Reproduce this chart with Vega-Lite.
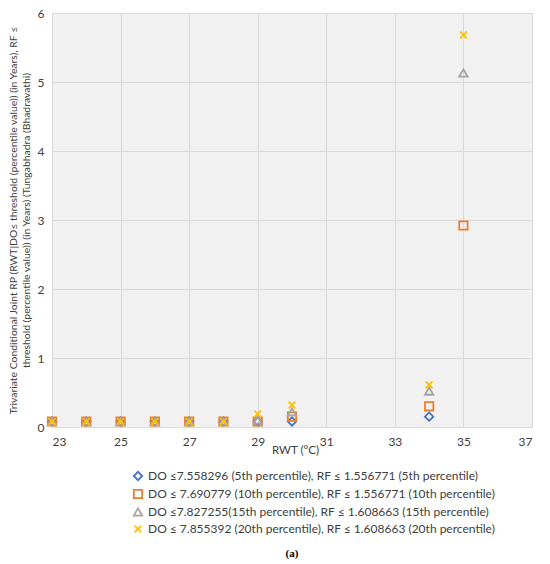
{
  "$schema": "https://vega.github.io/schema/vega-lite/v6.json",
  "width": 480,
  "height": 414,
  "autosize": {"type": "none"},
  "padding": {"left": 52, "top": 13, "right": 18, "bottom": 137},
  "background": "white",
  "config": {
    "font": "Lato",
    "view": {"fill": "#f1f1f1", "stroke": null},
    "axis": {"labelFont": "Lato", "titleFont": "Lato", "labelColor": "#404040", "titleColor": "#404040", "gridColor": "#d9d9d9", "ticks": false, "domain": false, "labelFontSize": 12, "titleFontSize": 11.5, "titleFontWeight": "normal"}
  },
  "title": {"text": "(a)", "orient": "bottom", "anchor": "middle", "font": "Liberation Serif", "fontSize": 11, "fontWeight": "bold", "color": "#000000", "offset": 12},
  "data": {"values": [
    {"rwt": 23, "rp": 0.08, "s": "s1"}, {"rwt": 24, "rp": 0.08, "s": "s1"}, {"rwt": 25, "rp": 0.08, "s": "s1"}, {"rwt": 26, "rp": 0.08, "s": "s1"}, {"rwt": 27, "rp": 0.08, "s": "s1"}, {"rwt": 28, "rp": 0.08, "s": "s1"}, {"rwt": 29, "rp": 0.08, "s": "s1"}, {"rwt": 30, "rp": 0.08, "s": "s1"}, {"rwt": 34, "rp": 0.15, "s": "s1"},
    {"rwt": 23, "rp": 0.08, "s": "s2"}, {"rwt": 24, "rp": 0.08, "s": "s2"}, {"rwt": 25, "rp": 0.08, "s": "s2"}, {"rwt": 26, "rp": 0.08, "s": "s2"}, {"rwt": 27, "rp": 0.08, "s": "s2"}, {"rwt": 28, "rp": 0.08, "s": "s2"}, {"rwt": 29, "rp": 0.08, "s": "s2"}, {"rwt": 30, "rp": 0.15, "s": "s2"}, {"rwt": 34, "rp": 0.3, "s": "s2"}, {"rwt": 35, "rp": 2.92, "s": "s2"},
    {"rwt": 23, "rp": 0.08, "s": "s3"}, {"rwt": 24, "rp": 0.08, "s": "s3"}, {"rwt": 25, "rp": 0.08, "s": "s3"}, {"rwt": 26, "rp": 0.08, "s": "s3"}, {"rwt": 27, "rp": 0.08, "s": "s3"}, {"rwt": 28, "rp": 0.08, "s": "s3"}, {"rwt": 29, "rp": 0.1, "s": "s3"}, {"rwt": 30, "rp": 0.22, "s": "s3"}, {"rwt": 34, "rp": 0.52, "s": "s3"}, {"rwt": 35, "rp": 5.13, "s": "s3"},
    {"rwt": 23, "rp": 0.08, "s": "s4"}, {"rwt": 24, "rp": 0.08, "s": "s4"}, {"rwt": 25, "rp": 0.08, "s": "s4"}, {"rwt": 26, "rp": 0.08, "s": "s4"}, {"rwt": 27, "rp": 0.08, "s": "s4"}, {"rwt": 28, "rp": 0.08, "s": "s4"}, {"rwt": 29, "rp": 0.19, "s": "s4"}, {"rwt": 30, "rp": 0.32, "s": "s4"}, {"rwt": 34, "rp": 0.61, "s": "s4"}, {"rwt": 35, "rp": 5.68, "s": "s4"}
  ]},
  "mark": {"type": "point", "filled": false, "strokeWidth": 1.8, "size": 70, "opacity": 1},
  "encoding": {
    "x": {"field": "rwt", "type": "quantitative", "scale": {"domain": [23, 37], "nice": false, "zero": false},
      "axis": {"values": [23, 25, 27, 29, 31, 33, 35, 37], "labelPadding": 9, "title": "RWT (°C)", "titleX": 243, "titleY": 26, "titleAnchor": "middle", "titleBaseline": "alphabetic"}},
    "y": {"field": "rp", "type": "quantitative", "scale": {"domain": [0, 6], "nice": false},
      "axis": {"values": [0, 1, 2, 3, 4, 5, 6], "labelPadding": 8, "title": ["Trivariate Conditional Joint RP (RWT|DO≤ threshold (percentile value)) (in Years), RF ≤", "threshold (percentile value)) (in Years) (Tungabhadra (Bhadravathi)"], "titleFontSize": 10.4, "titlePadding": 6, "titleLineHeight": 13}},
    "color": {"field": "s", "type": "nominal",
      "scale": {"domain": ["s1", "s2", "s3", "s4"], "range": ["#4472C4", "#ED7D31", "#A5A5A5", "#FFC000"]},
      "legend": {"orient": "none", "legendX": 80, "legendY": 457, "title": null, "labelFontSize": 12, "labelLimit": 0, "labelColor": "#404040", "rowPadding": 2, "symbolStrokeWidth": 1.8, "symbolSize": 70,
        "labelExpr": "datum.value == 's1' ? 'DO ≤7.558296 (5th percentile), RF ≤ 1.556771 (5th percentile)' : datum.value == 's2' ? 'DO ≤ 7.690779 (10th percentile), RF ≤ 1.556771 (10th percentile)' : datum.value == 's3' ? 'DO ≤7.827255(15th percentile), RF ≤ 1.608663 (15th percentile)' : 'DO ≤ 7.855392 (20th percentile), RF ≤ 1.608663 (20th percentile)'"}},
    "shape": {"field": "s", "type": "nominal",
      "scale": {"domain": ["s1", "s2", "s3", "s4"], "range": ["diamond", "square", "triangle-up", "M-0.8,-0.8L0.8,0.8M-0.8,0.8L0.8,-0.8"]},
      "legend": null}
  }
}
